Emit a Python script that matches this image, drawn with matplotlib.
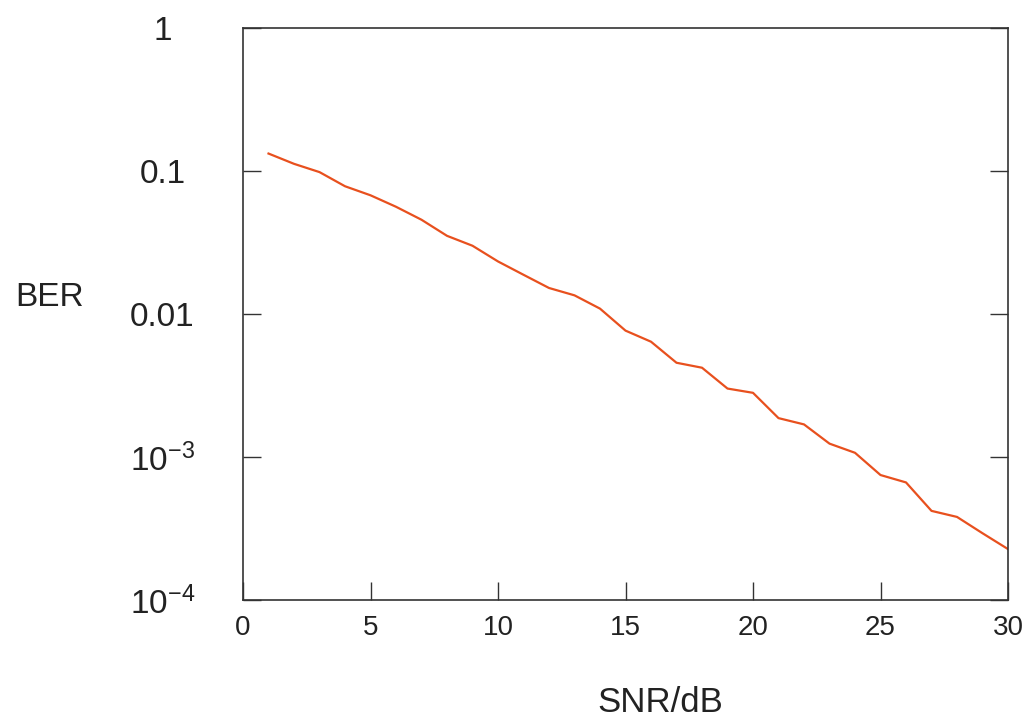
import matplotlib
matplotlib.use("Agg")
import matplotlib.pyplot as plt

# SNR (dB) vs BER
snr = list(range(1, 31))
ber = [0.1324, 0.1122, 0.0982, 0.0782, 0.0676, 0.0562, 0.0456, 0.0352, 0.0300, 0.0233,
       0.0188, 0.0152, 0.0135, 0.0109, 0.00765, 0.00640, 0.00456, 0.00421, 0.00301, 0.00281,
       0.00187, 0.00169, 0.00124, 0.00107, 0.000748, 0.000664, 0.000420, 0.000381, 0.000293, 0.000227]

y_ticks = [1, 0.1, 0.01, 1e-3, 1e-4]
y_labels = ["1", "0.1", "0.01", r"$10^{-3}$", r"$10^{-4}$"]
x_ticks = [0, 5, 10, 15, 20, 25, 30]

plt.rcParams["font.family"] = ["Liberation Sans", "DejaVu Sans"]
plt.rcParams["mathtext.fontset"] = "custom"
plt.rcParams["mathtext.rm"] = "Liberation Sans"
plt.rcParams["mathtext.it"] = "Liberation Sans"

fig = plt.figure(figsize=(10.31, 7.19), dpi=100)
ax = fig.add_axes([0.2357, 0.1655, 0.9777 - 0.2357, 0.9611 - 0.1655])

ax.plot(snr, ber, color="#E8501E", linewidth=1.6)

ax.set_yscale("log")
ax.set_xlim(0, 30)
ax.set_ylim(1e-4, 1)
ax.set_xticks(x_ticks)
ax.set_xticklabels([str(t) for t in x_ticks])
ax.set_yticks(y_ticks)
ax.set_yticklabels(y_labels)
ax.minorticks_off()

for s in ax.spines.values():
    s.set_color("#333333")
    s.set_linewidth(1.2)

ax.tick_params(axis="both", direction="in", length=13, width=1.0, color="#333333",
               labelcolor="#222222", top=False, right=True)
ax.tick_params(axis="x", pad=11, labelsize=20)
ax.tick_params(axis="y", pad=58, labelsize=24)
for lab in ax.get_yticklabels():
    lab.set_horizontalalignment("center")

fig.text(50 / 1031, 1 - 297 / 719, "BER", fontsize=24, color="#222222", ha="center", va="center")
fig.text(660 / 1031, 1 - 702 / 719, "SNR/dB", fontsize=25, color="#222222", ha="center", va="center")

fig.savefig("out.png", dpi=100)
